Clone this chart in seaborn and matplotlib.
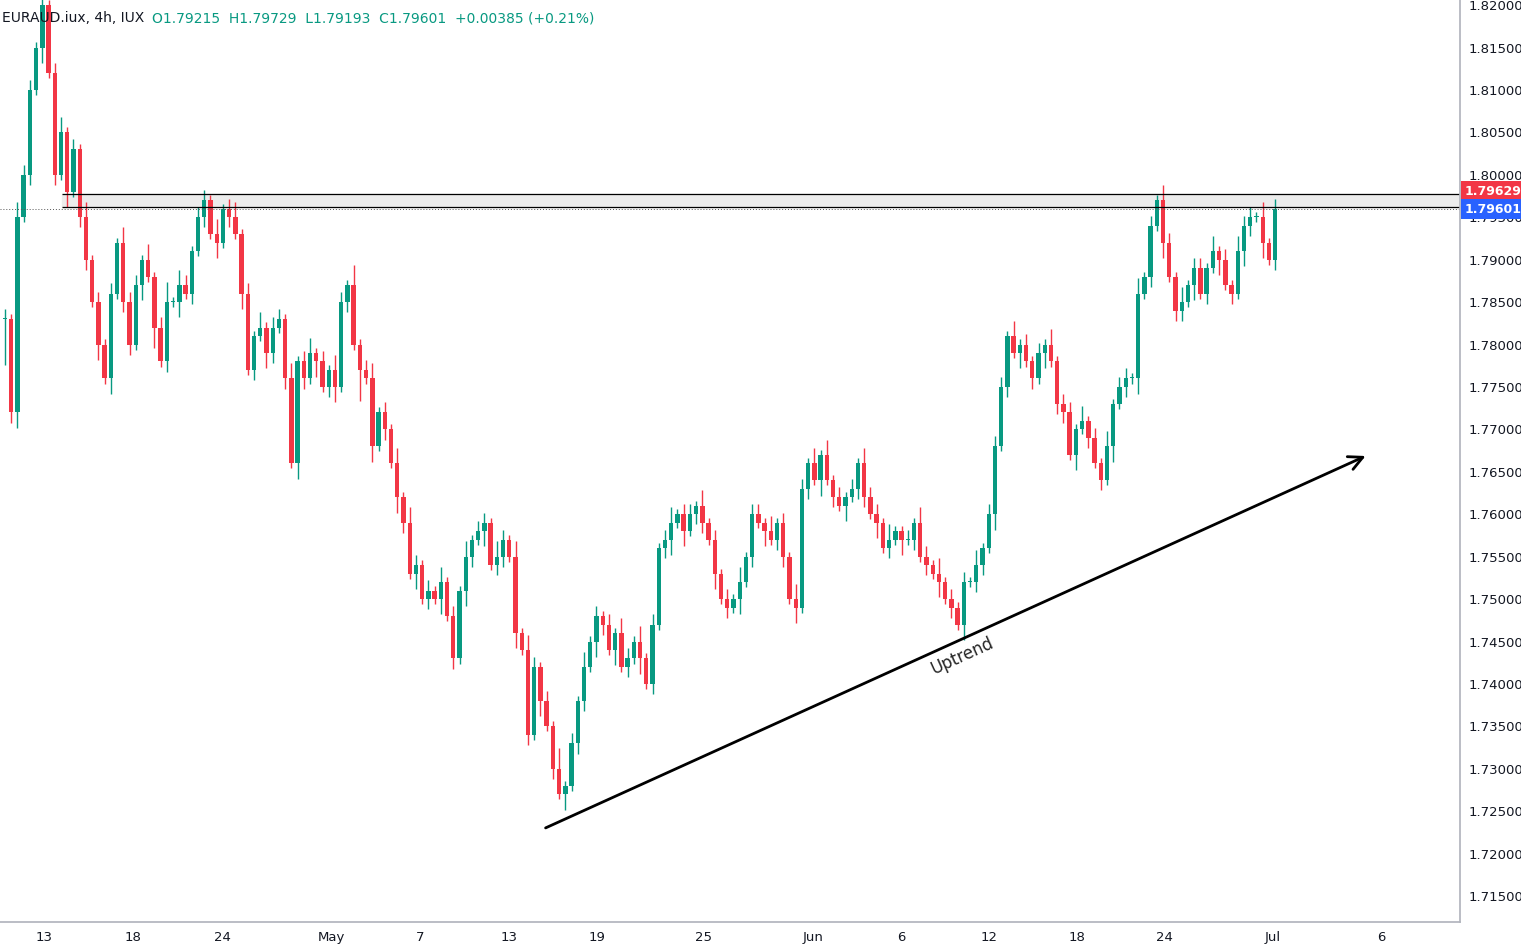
import matplotlib
matplotlib.use("Agg")
import matplotlib.pyplot as plt
import seaborn as sns
import numpy as np
import pandas as pd

# 4h closes left to right
closes = [1.783,1.772,1.795, 1.800,1.810,1.815, 1.820,1.812,1.800, 1.805,1.798,1.803, 1.795,1.790,1.785,
          1.780,1.776,1.786, 1.792,1.785,1.780, 1.787,1.790,1.788, 1.782,1.778,1.785, 1.785,1.787,1.786,
          1.791,1.795,1.797, 1.793,1.792,1.796, 1.795,1.793,1.786, 1.777,1.781,1.782, 1.779,1.782,1.783,
          1.776,1.766,1.778, 1.776,1.779,1.778, 1.775,1.777,1.775, 1.785,1.787,1.780, 1.777,1.776,1.768,
          1.772,1.770,1.766, 1.762,1.759,1.753, 1.754,1.750,1.751, 1.750,1.752,1.748, 1.743,1.751,1.755,
          1.757,1.758,1.759, 1.754,1.755,1.757, 1.755,1.746,1.744, 1.734,1.742,1.738, 1.735,1.730,1.727,
          1.728,1.733,1.738, 1.742,1.745,1.748, 1.747,1.744,1.746, 1.742,1.743,1.745, 1.743,1.740,1.747,
          1.756,1.757,1.759, 1.760,1.758,1.760, 1.761,1.759,1.757, 1.753,1.750,1.749, 1.750,1.752,1.755,
          1.760,1.759,1.758, 1.757,1.759,1.755, 1.750,1.749,1.763, 1.766,1.764,1.767, 1.764,1.762,1.761,
          1.762,1.763,1.766, 1.762,1.760,1.759, 1.756,1.757,1.758, 1.757,1.757,1.759, 1.755,1.754,1.753,
          1.752,1.750,1.749, 1.747,1.752,1.752, 1.754,1.756,1.760, 1.768,1.775,1.781, 1.779,1.780,1.778,
          1.776,1.779,1.780, 1.778,1.773,1.772, 1.767,1.770,1.771, 1.769,1.766,1.764, 1.768,1.773,1.775,
          1.776,1.776,1.786, 1.788,1.794,1.797, 1.792,1.788,1.784, 1.785,1.787,1.789, 1.786,1.789,1.791,
          1.790,1.787,1.786, 1.791,1.794,1.795, 1.795,1.792,1.790, 1.796]
first_open = 1.783

# wick sizes, one digit per candle, in units of 0.0006
wick_up = ("2132214123121312" "1213221312413212" "2131231213122131" "2312132141231213"
           "1321213121312213" "2131321214121312" "1213213121231221" "3121213122131213"
           "2131312121322131" "1213213121213122" "2131212131221312" "1312213121321312"
           "2131213221312121" "3121312212131213" "1213122131221213" "2131213121312212")
wick_dn = ("9231213121312213" "1312213141213121" "2131213121321213" "2131231216131213"
           "2131213121321312" "2131213121312213" "2131213121231312" "2131213121312213"
           "1213121312213121" "3121213121312213" "1213121312213121" "2131213121312213"
           "1213121321312121" "3121312212131213" "1213122131221213" "2131213121312212")

x_tick_px = [44, 133, 222, 331, 420, 509, 597, 703, 813, 901, 989, 1077, 1164, 1273, 1381]
x_tick_labels = ["13", "18", "24", "May", "7", "13", "19", "25", "Jun", "6", "12", "18", "24", "Jul", "6"]
y_ticks = [1.715 + 0.005 * i for i in range(22)]

zone_low, zone_high = 1.7962, 1.7977
last_price = 1.79601
zone_price = 1.79629

GREEN = "#089981"
RED = "#F23645"

n = len(closes)
step = 1270 / (n - 1)          # pixels per candle in the reference
def px(p):
    return (p - 5) / step

df = pd.DataFrame({"close": closes})
df["open"] = [first_open] + closes[:-1]
df["up"] = [int(ch) * 0.0006 for ch in wick_up[:n]]
df["dn"] = [int(ch) * 0.0006 for ch in wick_dn[:n]]
df["high"] = df[["open", "close"]].max(axis=1) + df["up"]
df["low"] = df[["open", "close"]].min(axis=1) - df["dn"]
df["idx"] = np.arange(n)
df["color"] = np.where(df["close"] >= df["open"], GREEN, RED)

sns.set_theme(style="white")
fig = plt.figure(figsize=(15.21, 9.48), dpi=100)
ax = fig.add_axes([0.0, 0.027, 0.96, 0.973])

ax.vlines(df["idx"], df["low"], df["high"], colors=df["color"], linewidth=1)
body_h = (df["close"] - df["open"]).abs().clip(lower=0.00012)
ax.bar(df["idx"], body_h, bottom=df[["open", "close"]].min(axis=1), width=0.7, color=df["color"], linewidth=0)

# resistance zone
ax.fill_between([px(62), px(1470)], zone_low, zone_high, color="#ececec", zorder=0)
ax.hlines([zone_low, zone_high], px(62), px(1470), colors="black", linewidth=0.9)
ax.axhline(last_price, color="#555555", linestyle=(0, (1, 2)), linewidth=0.7)

# trend arrow
ax.annotate("", xy=(px(1368), 1.7670), xytext=(px(543), 1.7229),
            arrowprops=dict(arrowstyle="->", color="black", lw=2, mutation_scale=25))
ax.text(px(962), 1.7433, "Uptrend", rotation=24.4, ha="center", va="center", fontsize=12,
        rotation_mode="anchor")

ax.set_xlim(px(0), px(1460))
ax.set_ylim(1.7119, 1.8206)
ax.set_xticks([px(p) for p in x_tick_px])
ax.set_xticklabels(x_tick_labels)
ax.yaxis.tick_right()
ax.set_yticks(y_ticks)
ax.set_yticklabels([f"{v:.5f}" for v in y_ticks])
ax.tick_params(axis="both", labelsize=9.5, colors="#131722", length=0, pad=6)
for side in ["top", "left"]:
    ax.spines[side].set_visible(False)
ax.spines["right"].set_color("#b2b5be")
ax.spines["bottom"].set_color("#b2b5be")

for price, col, ypos in [(zone_price, RED, 1.79808), (last_price, "#2962FF", 1.79596)]:
    ax.text(1.003, ypos, f"{price:.5f}", transform=ax.get_yaxis_transform(), color="white",
            fontsize=9, fontweight="bold", va="center", ha="left",
            bbox=dict(boxstyle="square,pad=0.25", fc=col, ec="none"))

fig.text(0.001, 0.981, "EURAUD.iux, 4h, IUX", fontsize=10, color="#131722", va="center")
fig.text(0.1, 0.981, "O1.79215  H1.79729  L1.79193  C1.79601  +0.00385 (+0.21%)",
         fontsize=10, color=GREEN, va="center")

fig.savefig("out.png", dpi=100)
